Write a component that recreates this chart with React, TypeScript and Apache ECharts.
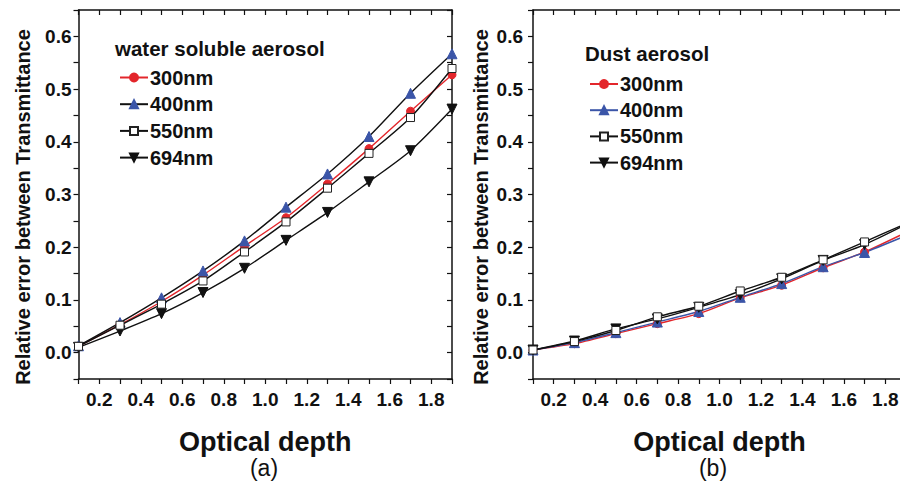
import React, { useEffect, useRef } from "react";
import * as echarts from "echarts";

const depth = [0.1, 0.3, 0.5, 0.7, 0.9, 1.1, 1.3, 1.5, 1.7, 1.9];

const water300 = [0.012, 0.053, 0.097, 0.147, 0.202, 0.256, 0.32, 0.387, 0.458, 0.527];
const water400 = [0.013, 0.057, 0.104, 0.155, 0.212, 0.276, 0.339, 0.41, 0.492, 0.567];
const water550 = [0.012, 0.052, 0.092, 0.136, 0.191, 0.248, 0.312, 0.378, 0.446, 0.539];
const water694 = [0.01, 0.041, 0.074, 0.114, 0.16, 0.213, 0.266, 0.324, 0.383, 0.462];

const dust300 = [0.005, 0.017, 0.036, 0.055, 0.074, 0.104, 0.128, 0.161, 0.191, 0.228];
const dust400 = [0.005, 0.019, 0.038, 0.058, 0.078, 0.105, 0.131, 0.163, 0.19, 0.222];
const dust550 = [0.005, 0.021, 0.042, 0.068, 0.088, 0.117, 0.143, 0.176, 0.21, 0.245];
const dust694 = [0.005, 0.022, 0.045, 0.064, 0.086, 0.11, 0.14, 0.175, 0.205, 0.243];

const wavelengths = ["300nm", "400nm", "550nm", "694nm"];
const panelTitles = ["water soluble aerosol", "Dust aerosol"];
const panelLabels = ["(a)", "(b)"];
const xName = "Optical depth";
const yName = "Relative error between Transmittance";

const FONT = "Liberation Sans, Arial, sans-serif";
const RED = "#e3262b";
const BLUE = "#3b55a8";
const BLACK = "#111111";

const pairs = (vals: number[]) => depth.map((d, i) => [d, vals[i]]);

export default function App() {
  const ref = useRef<HTMLDivElement>(null);
  useEffect(() => {
    if (!ref.current) return;
    const chart = echarts.init(ref.current, null, { renderer: "svg" });

    // canvas is 912 wide (clipped to 900 by wrapper) so panel (b) runs past the right edge
    const grids = [
      { left: 78.5, top: 10, width: 373.5, height: 369 },
      { left: 533, top: 10, width: 373, height: 369 },
    ];

    const axisLine = { show: true, onZero: false, lineStyle: { color: BLACK, width: 1.5 } };
    const xLabelFmt = (v: number) => {
      const k = Math.round(v * 10);
      return k % 2 === 0 ? (k / 10).toFixed(1) : "";
    };
    const yLabelFmt = (v: number) => {
      const k = Math.round(v * 100);
      return k % 10 === 0 && k >= 0 && k <= 60 ? (k / 100).toFixed(1) : "";
    };

    const xAxes: any[] = [];
    const yAxes: any[] = [];
    [0, 1].forEach((g) => {
      xAxes.push({
        type: "value",
        gridIndex: g,
        min: 0.1,
        max: 1.9,
        interval: 0.1,
        position: "bottom",
        axisLine,
        axisTick: { show: true, inside: false, length: 5, lineStyle: { color: BLACK, width: 1.2 } },
        splitLine: { show: false },
        axisLabel: {
          formatter: xLabelFmt,
          margin: 11,
          fontFamily: FONT,
          fontWeight: "bold",
          fontSize: 19,
          color: BLACK,
          showMinLabel: true,
          showMaxLabel: true,
        },
        name: xName,
        nameLocation: "middle",
        nameGap: 49,
        nameTextStyle: { fontFamily: FONT, fontWeight: "bold", fontSize: 27, color: BLACK },
      });
      xAxes.push({
        type: "value",
        gridIndex: g,
        min: 0.1,
        max: 1.9,
        interval: 0.1,
        position: "top",
        axisLine,
        axisTick: { show: true, inside: true, length: 5, lineStyle: { color: BLACK, width: 1.2 } },
        splitLine: { show: false },
        axisLabel: { show: false },
      });
      yAxes.push({
        type: "value",
        gridIndex: g,
        min: -0.05,
        max: 0.65,
        interval: 0.05,
        position: "left",
        axisLine,
        axisTick: { show: true, inside: false, length: 5, lineStyle: { color: BLACK, width: 1.2 } },
        splitLine: { show: false },
        axisLabel: {
          formatter: yLabelFmt,
          margin: g === 0 ? 7 : 10,
          fontFamily: FONT,
          fontWeight: "bold",
          fontSize: 19,
          color: BLACK,
        },
      });
      yAxes.push({
        type: "value",
        gridIndex: g,
        min: -0.05,
        max: 0.65,
        interval: 0.05,
        position: "right",
        axisLine,
        axisTick: { show: true, inside: true, length: 5, lineStyle: { color: BLACK, width: 1.2 } },
        splitLine: { show: false },
        axisLabel: { show: false },
      });
    });

    const panelData = [
      [water300, water400, water550, water694],
      [dust300, dust400, dust550, dust694],
    ];
    const markers = [
      { symbol: "circle", symbolSize: 8, rotate: 0, fill: RED, border: RED },
      { symbol: "triangle", symbolSize: 10, rotate: 0, fill: BLUE, border: BLUE },
      { symbol: "rect", symbolSize: 8, rotate: 0, fill: "#ffffff", border: "#222222" },
      { symbol: "triangle", symbolSize: 10, rotate: 180, fill: BLACK, border: BLACK },
    ];
    const lineColors = [
      [RED, BLACK, BLACK, BLACK],
      [RED, BLUE, BLACK, BLACK],
    ];

    const series: any[] = [];
    [0, 1].forEach((g) => {
      wavelengths.forEach((w, i) => {
        const m = markers[i];
        series.push({
          type: "line",
          name: (g === 0 ? "a" : "b") + w,
          xAxisIndex: g * 2,
          yAxisIndex: g * 2,
          data: pairs(panelData[g][i]),
          smooth: 0.25,
          symbol: m.symbol,
          symbolSize: m.symbolSize,
          symbolRotate: m.rotate,
          showAllSymbol: true,
          lineStyle: { color: lineColors[g][i], width: 1.4 },
          itemStyle: { color: m.fill, borderColor: m.border, borderWidth: 1 },
          z: i === 2 ? 3 : 2,
        });
      });
    });

    const legendCommon = {
      orient: "vertical",
      itemWidth: 28,
      itemHeight: 10,
      formatter: (name: string) => name.slice(1),
      textStyle: { fontFamily: FONT, fontWeight: "bold", fontSize: 20, color: BLACK, lineHeight: 20, padding: [0, 0, 0, -3] },
      selectedMode: false,
    };

    const textStyleTitle = (txt: string, x: number, y: number) => ({
      type: "text",
      x,
      y,
      style: {
        text: txt,
        fontFamily: FONT,
        fontWeight: "bold",
        fontSize: 20.5,
        fill: BLACK,
        align: "left",
        verticalAlign: "middle",
      },
    });

    const yTitle = (x: number) => ({
      type: "text",
      x,
      y: 207,
      rotation: Math.PI / 2,
      style: {
        text: yName,
        fontFamily: FONT,
        fontWeight: "bold",
        fontSize: 20,
        fill: BLACK,
        align: "center",
        verticalAlign: "middle",
      },
    });

    const panelLabel = (txt: string, x: number) => ({
      type: "text",
      x,
      y: 468,
      style: {
        text: txt,
        fontFamily: FONT,
        fontSize: 23,
        fill: BLACK,
        align: "center",
        verticalAlign: "middle",
      },
    });

    chart.setOption({
      animation: false,
      backgroundColor: "#ffffff",
      grid: grids,
      xAxis: xAxes,
      yAxis: yAxes,
      series,
      legend: [
        {
          ...legendCommon,
          left: 114,
          top: 62.5,
          itemGap: 6.7,
          data: wavelengths.map((w) => "a" + w),
        },
        {
          ...legendCommon,
          left: 584,
          top: 69,
          itemGap: 6.2,
          data: wavelengths.map((w) => "b" + w),
        },
      ],
      graphic: [
        textStyleTitle(panelTitles[0], 115, 48),
        textStyleTitle(panelTitles[1], 585, 53),
        yTitle(23),
        yTitle(481),
        panelLabel(panelLabels[0], 264),
        panelLabel(panelLabels[1], 713),
      ],
    });
    return () => chart.dispose();
  }, []);

  return (
    <div
      style={{ position: "absolute", left: 0, top: 0, width: 900, height: 483, overflow: "hidden", background: "#fff" }}
    >
      <div ref={ref} style={{ width: 912, height: 483 }} />
    </div>
  );
}
